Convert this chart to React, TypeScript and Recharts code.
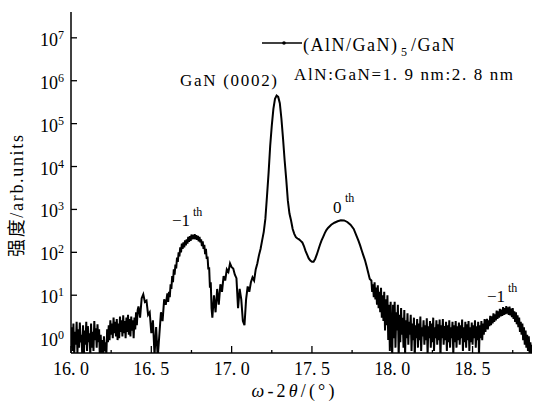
import React from 'react';
import { LineChart, Line, XAxis, YAxis } from 'recharts';

const FONT = '"Liberation Serif", "Times New Roman", serif';
const CJK_FONT = '"Liberation Serif", "Noto Sans CJK SC", serif';
const W = 533;
const H = 404;

const X_DOMAIN = [16, 18.87];
const Y_DOMAIN = [0.45, 4e7];
const X_TICKS = [16, 16.25, 16.5, 16.75, 17, 17.25, 17.5, 17.75, 18, 18.25, 18.5, 18.75];
const Y_TICKS = [1, 10, 100, 1000, 10000, 100000, 1000000, 10000000];

// [ω-2θ (deg), intensity (arb. units)]
const BACKGROUND_LEFT: [number, number][] = [
  [16.000, 0.6], [16.005, 1.8], [16.010, 0.5], [16.015, 2.2], [16.020, 0.4], [16.025, 1.4],
  [16.030, 0.7], [16.035, 2.4], [16.040, 0.45], [16.045, 1.6], [16.050, 0.6], [16.055, 2.3],
  [16.060, 0.8], [16.065, 1.2], [16.070, 0.4], [16.075, 2.0], [16.080, 0.35], [16.085, 1.5],
  [16.090, 0.7], [16.095, 2.4], [16.100, 0.5], [16.105, 1.9], [16.110, 0.8], [16.115, 1.3],
  [16.120, 0.4], [16.125, 2.2], [16.130, 0.6], [16.135, 1.4], [16.140, 0.5], [16.145, 2.5],
  [16.150, 0.9], [16.155, 1.7], [16.160, 0.6], [16.165, 2.1], [16.170, 0.8], [16.175, 1.6],
  [16.180, 0.3], [16.185, 1.2], [16.190, 0.35], [16.195, 0.9], [16.200, 0.3], [16.205, 1.1],
  [16.210, 0.5], [16.215, 0.8], [16.220, 0.4], [16.225, 1.6], [16.230, 0.8], [16.235, 2.0],
  [16.240, 0.9], [16.245, 2.6], [16.250, 1.2], [16.255, 2.2], [16.260, 1.0], [16.265, 3.0],
  [16.270, 1.3], [16.275, 2.4], [16.280, 1.1], [16.285, 2.8], [16.290, 0.9], [16.295, 2.2],
  [16.300, 1.0], [16.305, 3.2], [16.310, 1.4], [16.315, 2.6], [16.320, 1.1], [16.325, 3.4],
  [16.330, 1.3], [16.335, 2.5], [16.340, 1.0], [16.345, 3.0], [16.350, 1.4], [16.355, 3.5],
  [16.360, 1.2], [16.365, 2.8], [16.370, 1.1], [16.375, 3.2], [16.380, 1.5], [16.385, 2.6],
  [16.390, 1.0], [16.395, 3.0], [16.400, 1.6], [16.405, 4.0], [16.410, 2.0], [16.415, 4.5],
];

const FRINGE_LEFT: [number, number][] = [
  [16.42, 5.5], [16.43, 3.0], [16.44, 8.5], [16.45, 10.5], [16.46, 7.0], [16.47, 7.5], [16.48, 3.5],
  [16.49, 4.0], [16.50, 1.3], [16.51, 2.6], [16.52, 0.4], [16.53, 1.8], [16.54, 0.35], [16.55, 1.2],
  [16.56, 4], [16.57, 2.5], [16.58, 8], [16.59, 6],
];

const SATELLITE_M1_LEFT: [number, number][] = [
  [16.600, 11], [16.605, 7], [16.610, 12], [16.615, 9], [16.620, 18], [16.625, 14], [16.630, 28],
  [16.635, 20], [16.640, 40], [16.645, 30], [16.650, 52], [16.655, 42], [16.660, 75], [16.665, 60],
  [16.670, 100], [16.675, 80], [16.680, 130], [16.685, 100], [16.690, 160], [16.695, 120],
  [16.700, 170], [16.705, 130], [16.710, 190], [16.715, 145], [16.720, 200], [16.725, 160],
  [16.730, 230], [16.735, 175], [16.740, 240], [16.745, 185], [16.750, 260], [16.755, 200],
  [16.760, 255], [16.765, 205], [16.770, 265], [16.775, 200], [16.780, 250], [16.785, 195],
  [16.790, 240], [16.795, 180], [16.800, 230], [16.805, 170], [16.810, 200], [16.815, 140],
  [16.820, 180], [16.825, 120], [16.830, 150], [16.835, 90], [16.840, 120], [16.845, 70],
  [16.850, 80], [16.855, 40], [16.860, 45], [16.865, 15], [16.870, 20], [16.875, 5], [16.880, 3],
];

const FRINGE_MID: [number, number][] = [
  [16.89, 10], [16.90, 4], [16.91, 14], [16.92, 6], [16.93, 18], [16.94, 12], [16.95, 28],
  [16.96, 22], [16.97, 40], [16.98, 35], [16.99, 55], [17.00, 45], [17.01, 42], [17.02, 30],
  [17.03, 25], [17.04, 5], [17.05, 14], [17.06, 8], [17.07, 2.5], [17.08, 2.0], [17.09, 8],
  [17.10, 16], [17.11, 12], [17.12, 20], [17.13, 26], [17.14, 22], [17.15, 40], [17.16, 55],
];

const GAN_0002: [number, number][] = [
  [17.17, 85], [17.18, 120], [17.19, 190], [17.20, 300], [17.21, 600], [17.22, 2000], [17.23, 7000],
  [17.24, 30000], [17.25, 90000], [17.26, 220000], [17.27, 380000], [17.28, 450000], [17.29, 420000],
  [17.30, 300000], [17.31, 130000], [17.32, 45000], [17.33, 14000],
];

const SATELLITE_0: [number, number][] = [
  [17.34, 5000], [17.35, 1600], [17.36, 800], [17.37, 550], [17.38, 350], [17.39, 270], [17.40, 225],
  [17.41, 210], [17.42, 200], [17.43, 185], [17.44, 170], [17.45, 140], [17.46, 108], [17.47, 88],
  [17.48, 72], [17.49, 64], [17.50, 60], [17.51, 60], [17.52, 70], [17.53, 88], [17.54, 115],
  [17.55, 150], [17.56, 190], [17.57, 230], [17.58, 280], [17.59, 330], [17.60, 370], [17.62, 440],
  [17.64, 490], [17.66, 530], [17.68, 560], [17.70, 555], [17.72, 510], [17.74, 440], [17.76, 350],
  [17.78, 230], [17.79, 185], [17.80, 145], [17.81, 110], [17.82, 85], [17.83, 66], [17.84, 48],
  [17.85, 34], [17.86, 24],
];

const BACKGROUND_RIGHT: [number, number][] = [
  [17.870, 22], [17.875, 12], [17.880, 18], [17.885, 9], [17.890, 20], [17.895, 8], [17.900, 15],
  [17.905, 6], [17.910, 17], [17.915, 5], [17.920, 12], [17.925, 4], [17.930, 15], [17.935, 3],
  [17.940, 10], [17.945, 2.5], [17.950, 12], [17.955, 1.5], [17.960, 8], [17.965, 2.0], [17.970, 10],
  [17.975, 0.9], [17.980, 6], [17.985, 0.5], [17.990, 7], [17.995, 1.2], [18.000, 0.4], [18.005, 6],
  [18.010, 1.0], [18.015, 7], [18.020, 0.6], [18.025, 4], [18.030, 1.5], [18.035, 6], [18.040, 0.35],
  [18.045, 3.5], [18.050, 0.8], [18.055, 5], [18.060, 1.2], [18.065, 3.0], [18.070, 0.6], [18.075, 4.5],
  [18.080, 0.4], [18.085, 2.6], [18.090, 1.0], [18.095, 3.8], [18.100, 0.7], [18.105, 2.4], [18.110, 1.2],
  [18.115, 3.5], [18.120, 0.5], [18.125, 2.2], [18.130, 0.9], [18.135, 3.0], [18.140, 0.35], [18.145, 2.0],
  [18.150, 1.0], [18.155, 2.8], [18.160, 0.6], [18.165, 2.2], [18.170, 0.9], [18.175, 3.2], [18.180, 0.5],
  [18.185, 1.8], [18.190, 1.1], [18.195, 2.6], [18.200, 0.7], [18.205, 2.0], [18.210, 0.9], [18.215, 2.9],
  [18.220, 0.4], [18.225, 1.9], [18.230, 1.0], [18.235, 2.5], [18.240, 0.6], [18.245, 2.2], [18.250, 0.8],
  [18.255, 3.0], [18.260, 0.5], [18.265, 1.8], [18.270, 1.0], [18.275, 2.6], [18.280, 0.7], [18.285, 2.1],
  [18.290, 0.9], [18.295, 2.7], [18.300, 0.35], [18.305, 2.0], [18.310, 1.0], [18.315, 2.8], [18.320, 0.7],
  [18.325, 1.9], [18.330, 0.9], [18.335, 2.4], [18.340, 0.5], [18.345, 2.0], [18.350, 0.8], [18.355, 2.6],
  [18.360, 0.6], [18.365, 1.8], [18.370, 1.0], [18.375, 2.4], [18.380, 0.4], [18.385, 2.0], [18.390, 0.8],
  [18.395, 2.5], [18.400, 0.6], [18.405, 1.9], [18.410, 0.9], [18.415, 2.3], [18.420, 0.7], [18.425, 2.0],
  [18.430, 1.0], [18.435, 2.7], [18.440, 0.5], [18.445, 1.8], [18.450, 0.8], [18.455, 2.4], [18.460, 0.6],
  [18.465, 2.1], [18.470, 0.9], [18.475, 2.5], [18.480, 0.5], [18.485, 1.8], [18.490, 0.8], [18.495, 2.3],
  [18.500, 0.7], [18.505, 2.0], [18.510, 1.0], [18.515, 2.6], [18.520, 0.6], [18.525, 1.9], [18.530, 0.9],
  [18.535, 2.4], [18.540, 0.4], [18.545, 2.0], [18.550, 1.0], [18.555, 2.5], [18.560, 0.9], [18.565, 2.2],
  [18.570, 1.2], [18.575, 2.8], [18.580, 1.4], [18.585, 2.4],
];

const SATELLITE_M1_RIGHT: [number, number][] = [
  [18.590, 2.8], [18.595, 1.6], [18.600, 2.6], [18.605, 1.9], [18.610, 3.3], [18.615, 2.0],
  [18.620, 3.2], [18.625, 2.2], [18.630, 3.8], [18.635, 2.4], [18.640, 3.6], [18.645, 2.6],
  [18.650, 4.4], [18.655, 2.8], [18.660, 4.2], [18.665, 3.0], [18.670, 4.8], [18.675, 3.2],
  [18.680, 4.6], [18.685, 3.3], [18.690, 5.3], [18.695, 3.5], [18.700, 5.0], [18.705, 3.6],
  [18.710, 5.6], [18.715, 3.7], [18.720, 5.2], [18.725, 3.5], [18.730, 5.4], [18.735, 3.4],
  [18.740, 4.9], [18.745, 3.1], [18.750, 5.0], [18.755, 2.8], [18.760, 4.2], [18.765, 2.4],
  [18.770, 4.0], [18.775, 2.1], [18.780, 3.4], [18.785, 1.8], [18.790, 3.0], [18.795, 1.4],
  [18.800, 2.4], [18.805, 1.2], [18.810, 2.2], [18.815, 0.9], [18.820, 1.8], [18.825, 0.7],
  [18.830, 1.5], [18.835, 0.6], [18.840, 1.2], [18.845, 0.5], [18.850, 1.1], [18.855, 0.45],
  [18.860, 0.8], [18.865, 0.4], [18.870, 0.7],
];

const scan = [
  ...BACKGROUND_LEFT,
  ...FRINGE_LEFT,
  ...SATELLITE_M1_LEFT,
  ...FRINGE_MID,
  ...GAN_0002,
  ...SATELLITE_0,
  ...BACKGROUND_RIGHT,
  ...SATELLITE_M1_RIGHT,
].map(([angle, counts]) => ({ angle, counts }));

const txt = (size: number) => ({ fontFamily: FONT, fontSize: size });

const XTick = ({ x, y, payload }: any) => {
  const v: number = payload.value;
  const major = Math.abs(v * 2 - Math.round(v * 2)) < 1e-6;
  return (
    <g>
      <line x1={x} x2={x} y1={y} y2={y - (major ? 7 : 3)} stroke="#000" strokeWidth={1.3} />
      {major && (
        <text x={x} y={y + 22} textAnchor="middle" style={txt(18)} fill="#000">
          {v.toFixed(1).replace('.', '. ')}
        </text>
      )}
    </g>
  );
};

const YTick = ({ x, y, payload }: any) => {
  const exp = Math.round(Math.log10(payload.value));
  return (
    <g>
      <line x1={x} x2={x + 6} y1={y} y2={y} stroke="#000" strokeWidth={1.3} />
      <text x={x - 7} y={y + 8} textAnchor="end" style={txt(18)} fill="#000">
        10<tspan dy={-7} style={txt(12)}>{exp}</tspan>
      </text>
    </g>
  );
};

// legend + peak labels + axis titles, placed over the plot
const Annotations = () => (
  <svg width={W} height={H} style={{ position: 'absolute', left: 0, top: 0, pointerEvents: 'none' }} fill="#000">
    <line x1={262} x2={302} y1={43} y2={43} stroke="#000" strokeWidth={1.5} />
    <circle cx={284} cy={43} r={1.8} fill="#000" />
    <text x={303} y={51} style={{ ...txt(18), letterSpacing: 1.5 }}>(AlN/GaN)</text>
    <text x={401} y={56} style={txt(12)}>5</text>
    <text x={411} y={51} style={{ ...txt(18), letterSpacing: 1.5 }}>/GaN</text>
    <text x={294} y={80} textLength={219} lengthAdjust="spacing" style={txt(17)}>
      AlN:GaN=1. 9 nm:2. 8 nm
    </text>

    <text x={180} y={86} textLength={97} lengthAdjust="spacing" style={txt(17)}>
      GaN (0002)
    </text>
    <text x={172} y={226} style={txt(17)}>−1</text>
    <text x={193} y={216} style={txt(12)}>th</text>
    <text x={333} y={213} style={txt(17)}>0</text>
    <text x={345} y={202} style={txt(12)}>th</text>
    <text x={487} y={302} style={txt(17)}>−1</text>
    <text x={508} y={292} style={txt(12)}>th</text>

    <text x={293} y={397} textAnchor="middle" textLength={83} lengthAdjust="spacing" style={txt(18)}>
      <tspan fontStyle="italic">ω</tspan>-2<tspan fontStyle="italic">θ</tspan>/(°)
    </text>
    <text
      x={0}
      y={0}
      textAnchor="middle"
      textLength={122}
      lengthAdjust="spacing"
      transform="translate(23 196) rotate(-90)"
      style={{ fontFamily: CJK_FONT, fontSize: 18 }}
    >
      强度/arb.units
    </text>
  </svg>
);

export default function App() {
  return (
    <div style={{ position: 'absolute', left: 0, top: 0, width: W, height: H, background: '#fff', fontFamily: FONT }}>
      <LineChart width={W} height={H} data={scan} margin={{ top: 12, right: 1, bottom: 0, left: 0 }}>
        <XAxis
          dataKey="angle"
          type="number"
          domain={X_DOMAIN}
          ticks={X_TICKS}
          allowDataOverflow
          height={51}
          tickSize={0}
          tickMargin={0}
          tickLine={false}
          axisLine={{ stroke: '#000', strokeWidth: 1.5 }}
          tick={<XTick />}
          interval={0}
        />
        <XAxis
          xAxisId="top"
          orientation="top"
          dataKey="angle"
          type="number"
          domain={X_DOMAIN}
          height={0}
          tick={false}
          tickLine={false}
          axisLine={{ stroke: '#000', strokeWidth: 1.5 }}
        />
        <YAxis
          type="number"
          scale="log"
          domain={Y_DOMAIN}
          ticks={Y_TICKS}
          allowDataOverflow
          width={71}
          tickSize={0}
          tickMargin={0}
          tickLine={false}
          axisLine={{ stroke: '#000', strokeWidth: 1.5 }}
          tick={<YTick />}
          interval={0}
        />
        <YAxis
          yAxisId="right"
          orientation="right"
          type="number"
          domain={[0, 1]}
          width={0}
          tick={false}
          tickLine={false}
          axisLine={{ stroke: '#000', strokeWidth: 1.5 }}
        />
        <Line
          dataKey="counts"
          type="linear"
          dot={false}
          stroke="#000"
          strokeWidth={2}
          isAnimationActive={false}
        />
      </LineChart>
      <Annotations />
    </div>
  );
}
